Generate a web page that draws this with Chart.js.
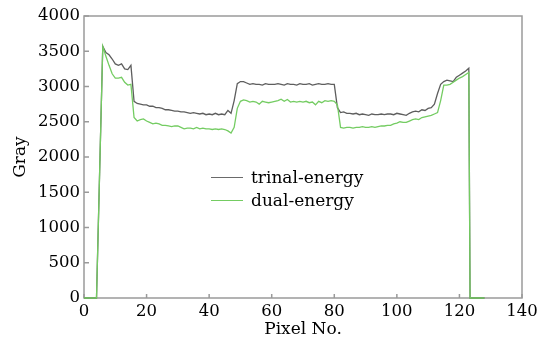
<!DOCTYPE html>
<html>
<head>
<meta charset="utf-8">
<script src="https://cdn.jsdelivr.net/npm/chart.js@4"></script>
<style>
  body { margin: 0; background: #fff; }
  #wrap { position: relative; width: 552px; height: 344px; }
  .key { position: absolute; left: 211px; width: 32px; height: 0; border-top: 1.5px solid; }
  .lbl { position: absolute; left: 251px; font: 17px "DejaVu Serif"; line-height: 23px; color: #000; white-space: nowrap; }
</style>
</head>
<body>
<div id="wrap">
  <canvas id="Profile" width="552" height="344"></canvas>
  <div class="key" style="top:177px;border-color:#6a6a6a"></div>
  <div class="lbl" style="top:166px">trinal-energy</div>
  <div class="key" style="top:200px;border-color:#74cc62"></div>
  <div class="lbl" style="top:189px">dual-energy</div>
</div>
<script>
var pixelNo = [0, 1, 2, 3, 4, 5, 6, 7, 8, 9, 10, 11, 12, 13, 14, 15, 16, 17, 18, 19,
  20, 21, 22, 23, 24, 25, 26, 27, 28, 29, 30, 31, 32, 33, 34, 35, 36, 37, 38, 39,
  40, 41, 42, 43, 44, 45, 46, 47, 48, 49, 50, 51, 52, 53, 54, 55, 56, 57, 58, 59,
  60, 61, 62, 63, 64, 65, 66, 67, 68, 69, 70, 71, 72, 73, 74, 75, 76, 77, 78, 79,
  80, 81, 82, 83, 84, 85, 86, 87, 88, 89, 90, 91, 92, 93, 94, 95, 96, 97, 98, 99,
  100, 101, 102, 103, 104, 105, 106, 107, 108, 109, 110, 111, 112, 113, 114, 115, 116, 117, 118, 119,
  120, 121, 122, 123, 123.4, 124, 125, 126, 127, 128];

var trinal = [0, 0, 0, 0, 0, 1790, 3570, 3480, 3450, 3390, 3320, 3300, 3320, 3250, 3240, 3300, 2790, 2760, 2750, 2740,
  2740, 2720, 2720, 2700, 2700, 2690, 2670, 2670, 2660, 2650, 2650, 2640, 2640, 2630, 2620, 2630, 2620, 2610, 2620, 2600,
  2610, 2600, 2620, 2600, 2610, 2600, 2660, 2620, 2800, 3040, 3070, 3070, 3050, 3030, 3040, 3030, 3030, 3020, 3040, 3030,
  3030, 3030, 3040, 3030, 3020, 3040, 3030, 3030, 3020, 3040, 3030, 3030, 3040, 3020, 3030, 3040, 3030, 3030, 3040, 3030,
  3030, 2700, 2630, 2640, 2620, 2620, 2610, 2620, 2600, 2610, 2600, 2590, 2610, 2600, 2600, 2610, 2600, 2610, 2610, 2600,
  2620, 2610, 2600, 2590, 2620, 2640, 2650, 2640, 2670, 2660, 2690, 2700, 2750, 2900, 3030, 3070, 3090, 3080, 3070, 3130,
  3160, 3190, 3220, 3260, 0, 0, 0, 0, 0, 0];

var dual = [0, 0, 0, 0, 0, 1790, 3570, 3430, 3300, 3180, 3120, 3120, 3130, 3060, 3020, 3030, 2560, 2510, 2530, 2540,
  2510, 2490, 2470, 2480, 2470, 2450, 2450, 2440, 2430, 2440, 2440, 2420, 2400, 2410, 2410, 2400, 2420, 2400, 2410, 2400,
  2400, 2390, 2400, 2390, 2400, 2390, 2370, 2340, 2420, 2690, 2790, 2810, 2800, 2780, 2790, 2780, 2750, 2790, 2780, 2770,
  2780, 2790, 2800, 2820, 2790, 2815, 2780, 2790, 2780, 2790, 2780, 2790, 2770, 2780, 2740, 2790, 2770, 2800, 2790, 2800,
  2790, 2740, 2420, 2410, 2420, 2420, 2410, 2420, 2420, 2430, 2420, 2420, 2430, 2420, 2430, 2440, 2440, 2450, 2450, 2470,
  2480, 2500, 2490, 2490, 2510, 2530, 2540, 2530, 2560, 2570, 2580, 2590, 2610, 2630, 2800, 3020, 3020, 3030, 3060, 3090,
  3120, 3140, 3170, 3200, 0, 0, 0, 0, 0, 0];

var seriesNames = ["trinal-energy", "dual-energy"];
var lineColors = ["#5e5e5e", "#74cc62"];

function toPoints(ys) {
  return pixelNo.map(function (x, i) { return { x: x, y: ys[i] }; });
}

// box round the plot and short inward tick marks
var frame = {
  id: "frame",
  beforeDatasetsDraw: function (chart) {
    var ctx = chart.ctx, a = chart.chartArea;
    var xs = chart.scales.x, ys = chart.scales.y;
    ctx.save();
    ctx.strokeStyle = "#9a9a9a";
    ctx.lineWidth = 1.5;
    ctx.strokeRect(a.left, a.top, a.right - a.left, a.bottom - a.top);
    ctx.beginPath();
    xs.ticks.forEach(function (t) {
      var p = xs.getPixelForValue(t.value);
      ctx.moveTo(p, a.bottom);
      ctx.lineTo(p, a.bottom - 4);
    });
    ys.ticks.forEach(function (t) {
      var p = ys.getPixelForValue(t.value);
      ctx.moveTo(a.left, p);
      ctx.lineTo(a.left + 5, p);
    });
    ctx.stroke();
    ctx.restore();
  }
};

var serif = "'DejaVu Serif', serif";
var plain = function (v) { return String(v); };

new Chart(document.getElementById("Profile"), {
  type: "line",
  data: {
    datasets: [
      { label: seriesNames[0], data: toPoints(trinal), borderColor: lineColors[0], borderWidth: 1.3, pointRadius: 0, order: 2, clip: false },
      { label: seriesNames[1], data: toPoints(dual), borderColor: lineColors[1], borderWidth: 1.3, pointRadius: 0, order: 1, clip: false }
    ]
  },
  options: {
    responsive: false,
    animation: false,
    devicePixelRatio: 1,
    layout: { padding: { top: 16, right: 30, left: 0, bottom: 0 } },
    plugins: { legend: { display: false }, tooltip: { enabled: false } },
    scales: {
      x: {
        type: "linear", min: 0, max: 140,
        grid: { display: false, drawTicks: false },
        border: { display: false },
        ticks: { stepSize: 20, padding: 4, color: "#000", font: { family: serif, size: 16.5 }, maxRotation: 0, callback: plain },
        title: { display: true, text: "Pixel No.", color: "#000", font: { family: serif, size: 17 }, padding: { top: 0, bottom: 4 } },
        afterFit: function (s) { s.height = 46; }
      },
      y: {
        min: 0, max: 4000,
        grid: { display: false, drawTicks: false },
        border: { display: false },
        ticks: { stepSize: 500, padding: 4, color: "#000", font: { family: serif, size: 16.5 }, callback: plain },
        title: { display: true, text: "Gray", color: "#000", font: { family: serif, size: 17 }, padding: { top: 10, bottom: 0 } },
        afterFit: function (s) { s.width = 84; }
      }
    }
  },
  plugins: [frame]
});
</script>
</body>
</html>
